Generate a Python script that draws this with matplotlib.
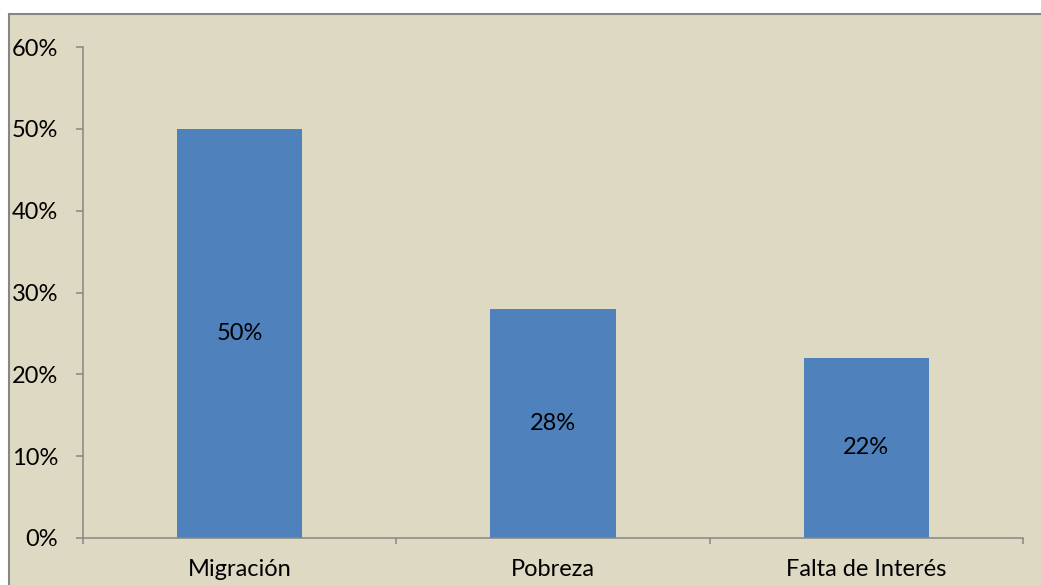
import matplotlib.pyplot as plt
from matplotlib.patches import Rectangle
from matplotlib.ticker import FuncFormatter

# data
categories = ["Migración", "Pobreza", "Falta de Interés"]
values = [0.50, 0.28, 0.22]
y_ticks = [0.0, 0.1, 0.2, 0.3, 0.4, 0.5, 0.6]

bg = "#DDD9C3"
bar_color = "#4F81BD"
axis_gray = "#868686"

plt.rcParams['font.family'] = ['Lato', 'DejaVu Sans']

fig = plt.figure(figsize=(10.41, 5.85), dpi=100)
fig.patch.set_facecolor("white")

# chart area frame (cut off at right and bottom edge)
W, H = 1041, 585
frame = Rectangle((9 / W, -0.05), 1.2, 1 - 14 / H + 0.05, transform=fig.transFigure,
                  facecolor=bg, edgecolor=axis_gray, linewidth=1.5, zorder=-10)
fig.patches.append(frame)

ax = fig.add_axes([83 / W, 1 - 538 / H, (1023 - 83) / W, (538 - 47) / H])
ax.set_facecolor("none")
ax.set_zorder(5)

x = range(len(categories))
bars = ax.bar(x, values, width=0.4, color=bar_color, zorder=2)
for b, v in zip(bars, values):
    ax.text(b.get_x() + b.get_width() / 2, v / 2, f"{v:.0%}",
            ha="center", va="center", fontsize=17, color="black", zorder=3)

ax.set_xlim(-0.5, len(categories) - 0.5)
ax.set_ylim(0, 0.6)
ax.set_yticks(y_ticks)
ax.yaxis.set_major_formatter(FuncFormatter(lambda v, p: f"{v:.0%}"))

# boundary ticks on x, labels centred under the bars
ax.set_xticks([i - 0.5 for i in range(len(categories) + 1)])
ax.set_xticklabels([])
ax.set_xticks(list(x), minor=True)
ax.set_xticklabels(categories, minor=True)
ax.tick_params(axis="x", which="major", length=4.5, width=1.1, color=axis_gray)
ax.tick_params(axis="x", which="minor", length=0, pad=15, labelsize=17)
ax.tick_params(axis="y", length=5, width=1.1, color=axis_gray, pad=13, labelsize=17)

for side in ["top", "right"]:
    ax.spines[side].set_visible(False)
for side in ["left", "bottom"]:
    ax.spines[side].set_color(axis_gray)
    ax.spines[side].set_linewidth(1.1)

plt.savefig("out.png", dpi=100, facecolor=fig.get_facecolor())
